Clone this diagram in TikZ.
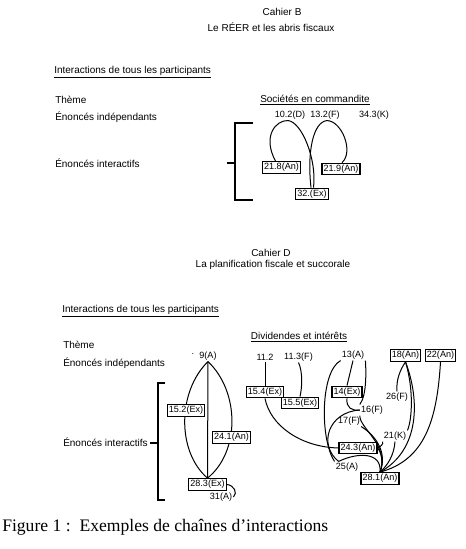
\documentclass[tikz,border=0pt]{standalone}
\usepackage{fontspec}
\setmainfont{Liberation Sans}
\newfontfamily\capfont{Liberation Serif}
\usetikzlibrary{calc,backgrounds}
\begin{document}
\begin{tikzpicture}[x=0.75pt,y=-0.75pt,
  hd/.style={font=\fontsize{7.5}{9}\selectfont, inner sep=0pt},
  lbl/.style={font=\fontsize{6.8}{8}\selectfont, inner sep=0.8pt},
  bx/.style={lbl, draw, fill=white, line width=0.85pt, inner sep=1.2pt},
  edge/.style={line width=0.75pt},
  brk/.style={line width=0.85pt},
]
\useasboundingbox (0,0) rectangle (466,549);

% ---------- Cahier B ----------
\node[hd] (cb) at (282,12) {Cahier B};
\node[hd] (cbt) at (271,27) {Le RÉER et les abris fiscaux};
\node[hd,anchor=west] (int1) at (54,72) {\underline{Interactions de tous les participants}};
\node[hd,anchor=west] (th1) at (55,100) {Thème};
\node[hd,anchor=west] (ei1) at (55,117) {Énoncés indépendants};
\node[hd,anchor=west] (ia1) at (55,163) {Énoncés interactifs};
\node[hd] (soc) at (315,100) {\underline{Sociétés en commandite}};

\node[lbl] (d102) at (290,115) {10.2(D)};
\node[lbl] (f132) at (325,115) {13.2(F)};
\node[lbl] (k343) at (374,115) {34.3(K)};
\node[bx] (b218) at (281.5,167.5) {21.8(An)};
\node[bx] (b219) at (341,169) {21.9(An)};
\node[bx] (b32) at (312,194) {32.(Ex)};

\draw[brk] (253,123) -- (235,123) -- (235,200) -- (253,200);
\draw[brk] (235,163) -- (227,163);

\begin{scope}[on background layer]
\draw[edge] ($(b218.north)+(-6,0)$) .. controls (262,136) and (276,120) .. ($(d102.south)+(-2,0)$)
  .. controls (302,122) and (317,160) .. ($(b32.north)+(1.5,0)$);
\draw[edge] ($(b32.north)+(-1,0)$) .. controls (307,152) and (313,122) .. ($(f132.south)+(2,0)$)
  .. controls (342,121) and (354,152) .. ($(b219.north)+(1,0)$);
\end{scope}

% ---------- Cahier D ----------
\node[hd] (cd) at (271,253) {Cahier D};
\node[hd] (cdt) at (273,265) {La planification fiscale et succorale};
\node[hd,anchor=west] (int2) at (62,311) {\underline{Interactions de tous les participants}};
\node[hd,anchor=west] (th2) at (63,345) {Thème};
\node[hd,anchor=west] (ei2) at (63,363) {Énoncés indépendants};
\node[hd,anchor=west] (ia2) at (63,442) {Énoncés interactifs};
\node[hd] (div) at (299,337) {\underline{Dividendes et intérêts}};

\draw[brk] (165,383) -- (158,383) -- (158,500) -- (165,500);
\draw[brk] (158,443) -- (150,443);

% left chain
\node[lbl] (dot9) at (193,355) {·};
\node[lbl] (a9) at (208,356) {9(A)};
\node[bx] (b152) at (186,410.5) {15.2(Ex)};
\node[bx] (b241) at (231.5,437.5) {24.1(An)};
\node[bx] (b283) at (207.5,484.5) {28.3(Ex)};
\node[lbl] (a31) at (221,497) {31(A)};

% middle
\node[lbl] (n112) at (265,357) {11.2};
\node[lbl] (n113) at (298.5,357) {11.3(F)};
\node[bx] (b154) at (265,392) {15.4(Ex)};
\node[bx] (b155) at (300,403) {15.5(Ex)};

% right cluster
\node[lbl] (a13) at (353,355) {13(A)};
\node[bx] (b18) at (405.5,355.5) {18(An)};
\node[bx] (b22) at (440.5,355.5) {22(An)};
\node[bx] (b14) at (347,392) {14(Ex)};
\node[lbl] (f26) at (397,397) {26(F)};
\node[lbl] (f16) at (372,410) {16(F)};
\node[lbl] (f17) at (349,421) {17(F)};
\node[lbl] (k21) at (395,436) {21(K)};
\node[bx] (b243) at (358,448) {24.3(An)};
\node[lbl] (a25) at (347,467) {25(A)};
\node[bx] (b281) at (380,478.5) {28.1(An)};
\coordinate (v25) at ($(a25.north west)+(4,0)$);

\begin{scope}[on background layer]
% lens
\draw[edge] (a9.south) -- (b283.north);
\draw[edge] (a9.south) .. controls (177,392) and (177,452) .. (b283.north);
\draw[edge] (a9.south) .. controls (240,392) and (240,452) .. (b283.north);
\draw[edge] (b283.east) .. controls (234,485) and (238,493) .. (a31.east);
% middle
\draw[edge] (n112.south) -- (b154.north);
\draw[edge] (n113.south) .. controls (303,372) and (302,388) .. (b155.north);
\draw[edge] (b154.south) .. controls (270,425) and (300,447) .. (b243.west);
% right cluster
\draw[edge] (a13.south) -- (b14.north);
\draw[edge] (a13.south east) .. controls (366,370) and (367,395) .. (f16.north west);
\draw[edge] (a13.south west) .. controls (320,372) and (320,440) .. (a25.north west);
\draw[edge] (b14.south) .. controls (346,408) and (352,411) .. (f16.west);
\draw[edge] (f16.west) .. controls (328,412) and (318,445) .. (v25);
\draw[edge] (v25) .. controls (358,452) and (382,452) .. (b281.north);
\draw[edge] (f16.south west) .. controls (359,428) and (390,445) .. (b281.north);
\draw[edge] (f17.south east) .. controls (375,435) and (388,452) .. (b281.north);
\draw[edge] (b243.east) .. controls (381,452) and (384,462) .. (b281.north);
\draw[edge] (b18.south) .. controls (400,370) and (396,380) .. (f26.north);
\draw[edge] (b18.south) .. controls (414,390) and (412,420) .. (k21.north east);
\draw[edge] (k21.south west) .. controls (384,444) and (380,447) .. (b243.east);
\draw[edge] (k21.south) .. controls (394,455) and (388,465) .. (b281.north);
\draw[edge] (b18.south) .. controls (420,400) and (420,450) .. (b281.north);
\draw[edge] (b22.south) .. controls (437,420) and (425,460) .. (b281.north);
\end{scope}

% caption
\node[font=\capfont\fontsize{13.2}{15}\selectfont, anchor=west, inner sep=0pt] (cap) at (2,527) {Figure 1 :\ \ Exemples de chaînes d’interactions};
\end{tikzpicture}
\end{document}
